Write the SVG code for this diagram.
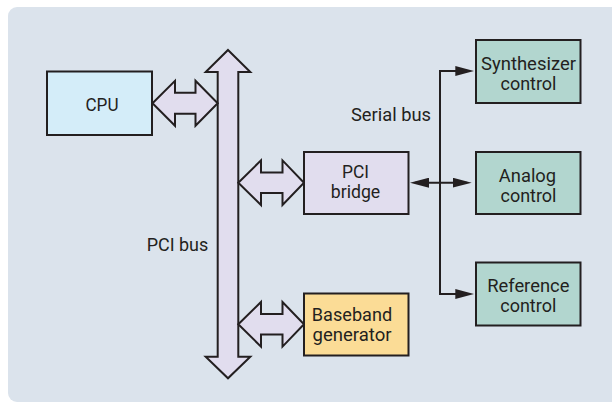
<svg xmlns="http://www.w3.org/2000/svg" width="612" height="403" viewBox="0 0 612 403">
<style>
.box{stroke:#231f20;stroke-width:2}
.bus{fill:#e1ddee;stroke:#231f20;stroke-width:2;stroke-linejoin:miter}
.t{font-family:Roboto,"Liberation Sans",sans-serif;font-size:18.5px;fill:#231f20;text-anchor:middle}
.ln{fill:none;stroke:#231f20;stroke-width:2}
</style>
<defs>
<marker id="ah" viewBox="0 0 19 10" refX="14" refY="5" markerWidth="19" markerHeight="10" markerUnits="userSpaceOnUse" orient="auto-start-reverse">
<path d="M0,0 L19,5 L0,10 z" fill="#231f20"/>
</marker>
</defs>
<rect x="0" y="0" width="612" height="403" fill="#ffffff"/>
<rect x="8" y="7" width="620" height="395" rx="9" fill="#dbe3ec"/>
<g id="connectors">
<polygon class="bus" points="228,50 250.3,72 238.3,72 238.3,356.7 250.3,356.7 228,378.3 205.7,356.7 217.7,356.7 217.7,72 205.7,72"/>
<polygon class="bus" points="152.5,103.3 175,80.8 175,92.8 195.5,92.8 195.5,80.8 217.7,103.3 195.5,125.8 195.5,113.8 175,113.8 175,125.8"/>
<polygon class="bus" points="238.3,182.7 261,160.4 261,172.4 282.5,172.4 282.5,160.4 304,182.7 282.5,205 282.5,193 261,193 261,205"/>
<polygon class="bus" points="238.3,324.3 261,302 261,314 282.5,314 282.5,302 304,324.3 282.5,346.6 282.5,334.6 261,334.6 261,346.6"/>
<polyline class="ln" points="469.3,71 440,71 440,294 469.3,294" marker-start="url(#ah)" marker-end="url(#ah)"/>
<line class="ln" x1="415" y1="182.7" x2="466.7" y2="182.7" marker-start="url(#ah)" marker-end="url(#ah)"/>
<text class="t" x="391" y="121" textLength="80" lengthAdjust="spacingAndGlyphs">Serial bus</text>
<text class="t" x="177.5" y="250.7" textLength="61.6" lengthAdjust="spacingAndGlyphs">PCI bus</text>
</g>
<g id="cpu">
<rect class="box" x="47" y="71.5" width="105" height="63.5" fill="#d4edf9"/>
<text class="t" x="102" y="110.5" textLength="33" lengthAdjust="spacingAndGlyphs">CPU</text>
</g>
<g id="pci-bridge">
<rect class="box" x="304" y="152" width="104.5" height="62" fill="#e1ddee"/>
<text class="t" x="355.5" y="178" textLength="27" lengthAdjust="spacingAndGlyphs">PCI</text>
<text class="t" x="355.5" y="198" textLength="49.5" lengthAdjust="spacingAndGlyphs">bridge</text>
</g>
<g id="baseband">
<rect class="box" x="304" y="293.5" width="104.5" height="62" fill="#fbdc96"/>
<text class="t" x="352" y="320.5" textLength="80.3" lengthAdjust="spacingAndGlyphs">Baseband</text>
<text class="t" x="352" y="340.5" textLength="79" lengthAdjust="spacingAndGlyphs">generator</text>
</g>
<g id="synth">
<rect class="box" x="476" y="40" width="104.5" height="63" fill="#b2d6cf"/>
<text class="t" x="528.5" y="70" textLength="95" lengthAdjust="spacingAndGlyphs">Synthesizer</text>
<text class="t" x="528.5" y="90" textLength="56" lengthAdjust="spacingAndGlyphs">control</text>
</g>
<g id="analog">
<rect class="box" x="476" y="152" width="104.5" height="62" fill="#b2d6cf"/>
<text class="t" x="527.5" y="181.5" textLength="57.3" lengthAdjust="spacingAndGlyphs">Analog</text>
<text class="t" x="528.5" y="201.5" textLength="56" lengthAdjust="spacingAndGlyphs">control</text>
</g>
<g id="reference">
<rect class="box" x="476" y="262.5" width="104.5" height="63" fill="#b2d6cf"/>
<text class="t" x="528.3" y="291.7" textLength="82.3" lengthAdjust="spacingAndGlyphs">Reference</text>
<text class="t" x="528.3" y="311.7" textLength="56" lengthAdjust="spacingAndGlyphs">control</text>
</g>
</svg>
